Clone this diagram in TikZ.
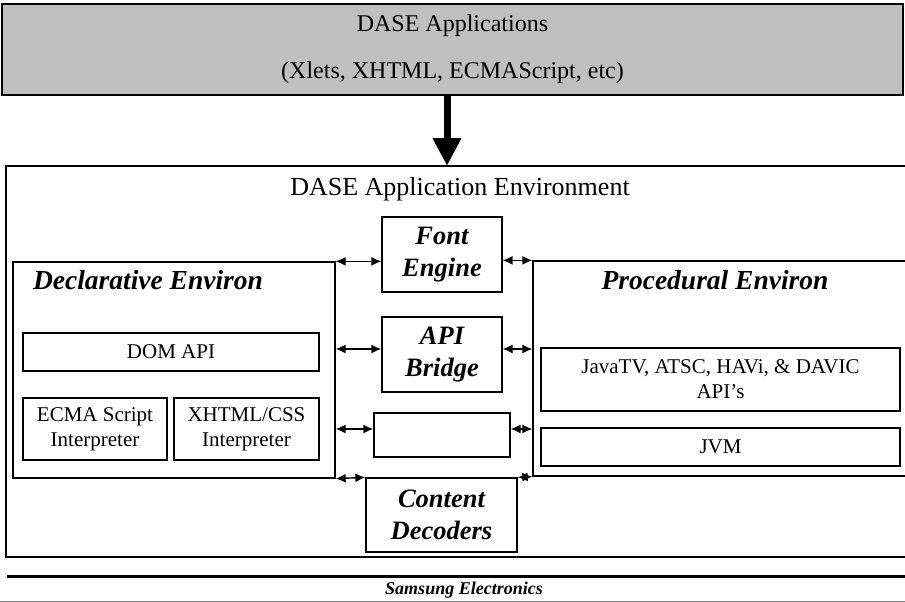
\documentclass[tikz,border=0pt]{standalone}
\usepackage{fontspec}
\setmainfont{Liberation Serif}
\usetikzlibrary{arrows.meta}

\begin{document}
\begin{tikzpicture}[x=1pt,y=-1pt]
\tikzstyle{envbox}=[draw, line width=1.3pt, inner sep=0pt]
\tikzstyle{ibox}=[envbox, align=center, font=\fontsize{21}{25}\selectfont]
\tikzstyle{mbox}=[envbox, align=center,
  font=\fontsize{26.5}{32}\selectfont\bfseries\itshape]
\tikzstyle{envtitle}=[font=\fontsize{27.5}{33}\selectfont\bfseries\itshape]
\tikzstyle{link}=[<->, >={Latex[length=10pt,width=9pt]}, line width=1.4pt]
\useasboundingbox (0,0) rectangle (905,602);
\clip (0,0) rectangle (905,602);

% applications on top
\node[envbox, line width=1.6pt, fill=black!25, minimum width=901pt,
  minimum height=91pt, align=center, font=\fontsize{24}{28}\selectfont]
  (apps) at (452.5,49.5) {DASE Applications\\[19pt](Xlets, XHTML, ECMAScript, etc)};

% application environment
\node[envbox, minimum width=912pt, minimum height=391pt] (env) at (462,361.5) {};
\node[font=\fontsize{26}{30}\selectfont] (envname) at (460,189)
  {DASE Application Environment};
\coordinate (envtop) at (447,166);
\draw[line width=7pt, -{Triangle[length=28pt,width=27pt]}]
  (apps.south -| envtop) -- (envtop);

% declarative side
\node[envbox, minimum width=322pt, minimum height=216pt] (decl) at (174,370) {};
\node[envtitle] (decltitle) at (148,280) {Declarative Environ};
\node[ibox, minimum width=296pt, minimum height=38pt] (dom) at (171,352) {DOM API};
\node[ibox, minimum width=144pt, minimum height=62pt] (ecma) at (95,429)
  {ECMA Script\\Interpreter};
\node[ibox, minimum width=145pt, minimum height=62pt] (xhtml) at (246.5,429)
  {XHTML/CSS\\Interpreter};

% procedural side
\node[envbox, minimum width=380pt, minimum height=215pt] (proc) at (723,368.5) {};
\node[envtitle] (proctitle) at (715,280) {Procedural Environ};
\node[ibox, minimum width=359pt, minimum height=63pt] (javatv) at (720.5,379.5)
  {JavaTV, ATSC, HAVi, \& DAVIC\\API’s};
\node[ibox, minimum width=359pt, minimum height=38pt] (jvm) at (720.5,447) {JVM};

% middle column
\node[mbox, minimum width=120pt, minimum height=75pt] (font) at (442,254.5)
  {Font\\Engine};
\node[mbox, minimum width=120pt, minimum height=75pt] (api) at (442,354.5)
  {API\\Bridge};
\node[envbox, minimum width=136pt, minimum height=44pt] (blank) at (442,435) {};
\node[mbox, minimum width=151pt, minimum height=74pt] (content) at (441.5,515)
  {Content\\Decoders};

\coordinate (apiy) at (0,349);
\coordinate (blanky) at (0,429);
\draw[link] (decl.north east) -- (decl.north east -| font.west);
\draw[link] (font.east |- proc.north west) -- (proc.north west);
\draw[link] (decl.east |- apiy) -- (api.west |- apiy);
\draw[link] (api.east |- apiy) -- (proc.west |- apiy);
\draw[link] (decl.east |- blanky) -- (blank.west |- blanky);
\draw[link] (blank.east |- blanky) -- (proc.west |- blanky);
\draw[link] (decl.south east) -- (content.north west);
\draw[link] (content.north east) -- (proc.south west);

% footer
\draw[line width=3pt] (7,576) -- (905,576);
\draw[black!50, line width=0.6pt] (0,601) -- (905,601);
\node[font=\fontsize{18}{22}\selectfont\bfseries\itshape] (maker) at (464,590)
  {Samsung Electronics};
\end{tikzpicture}
\end{document}
